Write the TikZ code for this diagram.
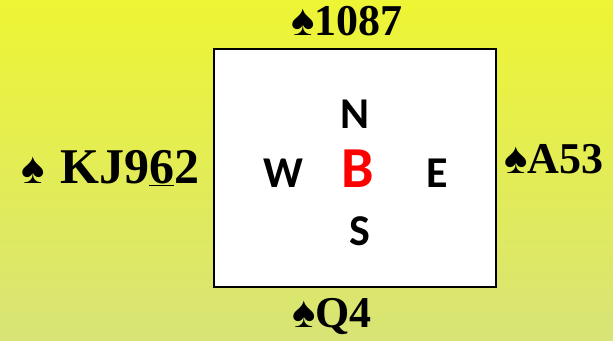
\documentclass[tikz,border=0pt]{standalone}
\usepackage{fontspec}
\setmainfont{Liberation Serif}
\newfontfamily\compassfont{Carlito}
\definecolor{slidetop}{RGB}{238,245,52}
\definecolor{slidebottom}{RGB}{216,228,118}
\definecolor{bidred}{RGB}{255,0,0}
\usetikzlibrary{positioning}

\begin{document}
\begin{tikzpicture}[x=1pt, y=-1pt,
  hand/.style={inner sep=0pt, anchor=base west, font=\bfseries\fontsize{44}{44}\selectfont},
  seat/.style={inner sep=0pt, anchor=base, font=\compassfont\bfseries\fontsize{44}{44}\selectfont},
  tablebox/.style={draw=black, line width=2pt, fill=white}
]
  % slide background
  \shade[top color=slidetop, bottom color=slidebottom] (0,0) rectangle (613,340);
  \useasboundingbox (0,0) rectangle (613,340);

  \node[tablebox, minimum width=282, minimum height=238, anchor=north west] (table) at (213,48) {};

  % the four seats
  \node[seat] (north) at (355,128) {N};
  \node[seat] (south) at (360,245) {S};
  \node[seat] (west) at (283,187) {W};
  \node[seat] (east) at (437,187) {E};
  \node[seat, text=bidred, font=\compassfont\bfseries\fontsize{58}{58}\selectfont] (bid) at (358,187) {B};

  % the spade holdings
  \node[hand] (northhand) at (291,35) {♠1087};
  \node[hand] (easthand) at (504,173) {♠A53};
  \node[hand] (southhand) at (292,327) {♠Q4};
  \node[hand] (westhand) at (21,183) {♠\hspace{16pt}{\fontsize{50}{50}\selectfont KJ9\underline{6}2}};
\end{tikzpicture}
\end{document}
